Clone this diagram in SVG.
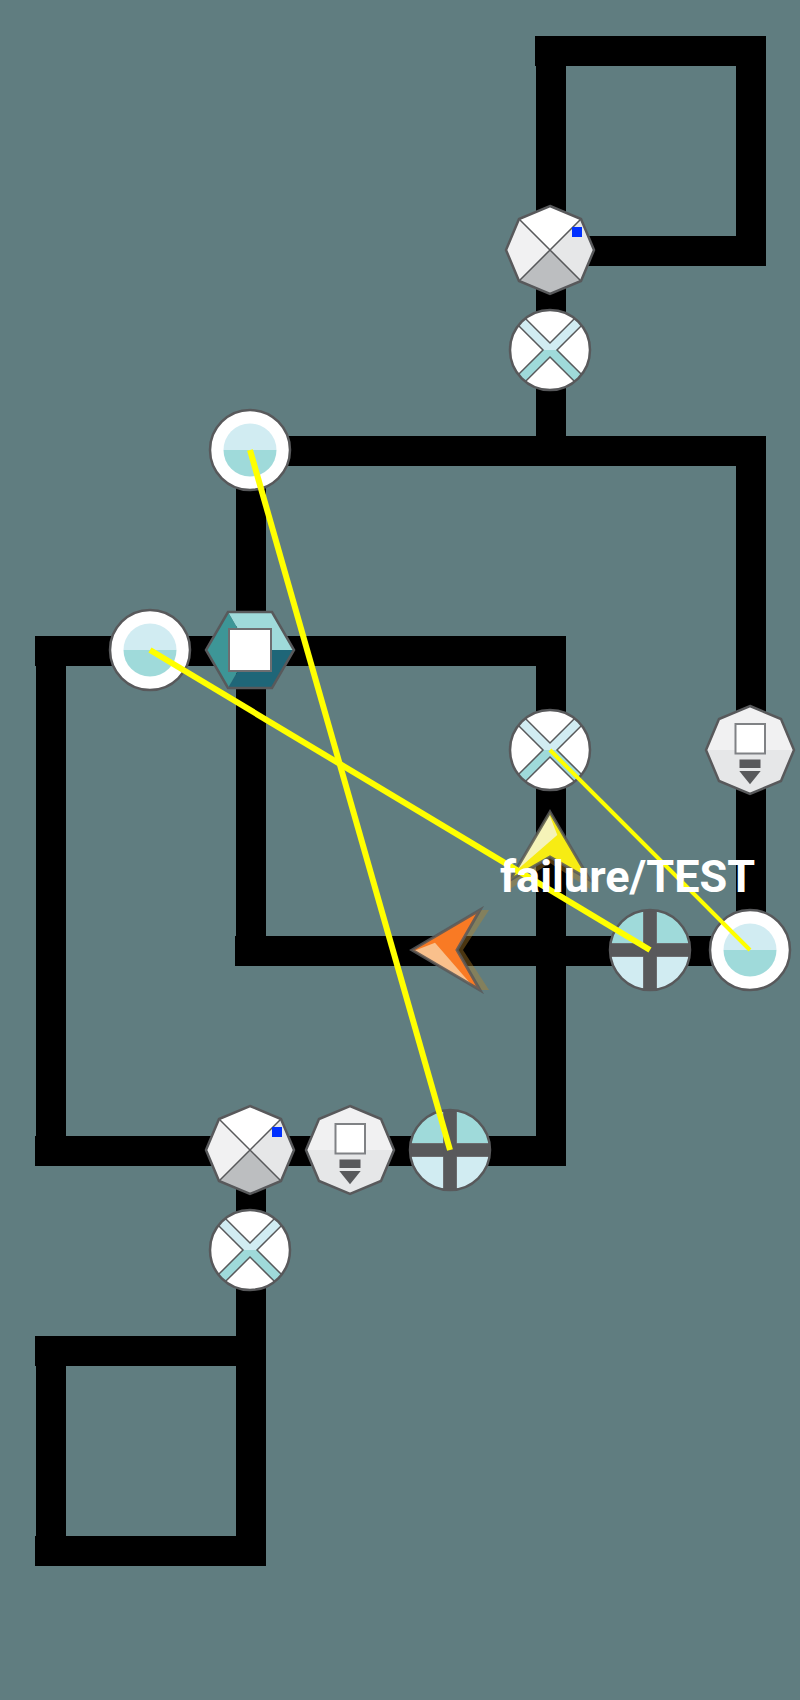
<svg xmlns="http://www.w3.org/2000/svg" width="800" height="1700" viewBox="0 0 800 1700">
<style>
.pipe{stroke:#000;stroke-width:30;fill:none}
.sig{stroke:#ff0;fill:none}
.o{stroke:#58595b;stroke-width:2.5;fill:none}
.e{stroke:#58595b;stroke-width:1.5;fill:none}
.lt{fill:#d1ecf2}
.tl{fill:#9fdada}
.bar{fill:#58595b;stroke:#808285;stroke-width:1}
.barf{fill:#58595b}
.label{font-family:Roboto,"Liberation Sans",sans-serif;font-size:45px;font-weight:700;fill:#fff}
</style>
<defs>
<g id="x-valve"><circle r="40" fill="#fff"/>
<path class="lt" d="M-31.57-24.57A40 40 0 0 1-24.57-31.57L0-7 24.57-31.57A40 40 0 0 1 31.57-24.57L7 0H-7Z"/>
<path class="tl" d="M-31.57 24.57A40 40 0 0 0-24.57 31.57L0 7 24.57 31.57A40 40 0 0 0 31.57 24.57L7 0H-7Z"/>
<path class="e" d="M-31.57-24.57L-7 0-31.57 24.57M-24.57-31.57L0-7 24.57-31.57M31.57-24.57L7 0 31.57 24.57M-24.57 31.57L0 7 24.57 31.57"/>
<circle class="o" r="40"/></g>
<g id="ring"><circle r="40" fill="#fff"/>
<path class="lt" d="M-26.5 0A26.5 26.5 0 0 1 26.5 0Z"/>
<path class="tl" d="M-26.5 0A26.5 26.5 0 0 0 26.5 0Z"/>
<circle class="o" r="40"/></g>
<g id="plus"><path class="tl" d="M-40 0A40 40 0 0 1 40 0Z"/>
<path class="lt" d="M-40 0A40 40 0 0 0 40 0Z"/>
<rect class="bar" x="-39.5" y="-6.5" width="79" height="13"/>
<rect class="bar" x="-6.5" y="-39.5" width="13" height="79"/>
<rect class="barf" x="-39.5" y="-6.5" width="79" height="13"/>
<rect class="barf" x="-6.5" y="-39.5" width="13" height="79"/>
<circle class="o" r="40"/></g>
<g id="octa-cross">
<polygon points="-31,-31 0,-44 31,-31 0,0" fill="#fff"/>
<polygon points="-31,-31 -44,0 -31,31 0,0" fill="#f1f1f2"/>
<polygon points="31,-31 44,0 31,31 0,0" fill="#e6e7e8"/>
<polygon points="-31,31 0,44 31,31 0,0" fill="#bcbec0"/>
<path class="e" d="M-31-31L31 31M31-31L-31 31"/>
<polygon class="o" points="0,-44 31,-31 44,0 31,31 0,44 -31,31 -44,0 -31,-31"/>
<rect x="22" y="-23" width="10" height="10" fill="#0030ff"/></g>
<g id="octa-drop">
<path d="M-44 0L-31-31 0-44 31-31 44 0Z" fill="#f1f1f2"/>
<path d="M-44 0L-31 31 0 44 31 31 44 0Z" fill="#e6e7e8"/>
<polygon class="o" points="0,-44 31,-31 44,0 31,31 0,44 -31,31 -44,0 -31,-31"/>
<rect x="-14.5" y="-26" width="29.5" height="29.5" fill="#fff" stroke="#808285" stroke-width="2"/>
<rect x="-10.5" y="9.5" width="21" height="8.5" fill="#58595b"/>
<polygon points="-10.7,21 10.7,21 0,34.3" fill="#58595b"/></g>
<g id="arrow-o">
<polygon points="30,-40 7,0 30,40 39,40 13,0 39,-40" fill="#b88428" fill-opacity=".4"/>
<polygon points="-38,0 30,-40 7,0 30,40" fill="#f97a24"/>
<polygon points="-35,.5 -15,-7.3 21.7,35" fill="#f9c08c"/>
<polygon points="-38,0 30,-40 7,0 30,40" fill="none" stroke="#58595b" stroke-opacity=".85" stroke-width="3"/></g>
<g id="arrow-y">
<polygon points="30,-40 7,0 30,40 39,40 13,0 39,-40" fill="#b88428" fill-opacity=".4"/>
<polygon points="-38,0 30,-40 7,0 30,40" fill="#f7ec13"/>
<polygon points="-35,.5 -15,-7.3 21.7,35" fill="#f5f3b8"/>
<polygon points="-38,0 30,-40 7,0 30,40" fill="none" stroke="#58595b" stroke-opacity=".85" stroke-width="3"/></g>
</defs>
<rect width="800" height="1700" fill="#607d80"/>
<g id="connectors">
<path class="pipe" d="M535 51H766M751 36V266M550 251H766M551 36V451"/>
<path class="pipe" d="M250 451H766M751 436V951M235 951H751M251 436V966"/>
<path class="pipe" d="M35 651H566M551 636V1166M35 1151H566M51 636V1166"/>
<path class="pipe" d="M251 1151V1566M35 1351H266M51 1336V1566M35 1551H266"/>
</g>
<g id="node-octa-1" transform="translate(550 250)"><use href="#octa-cross"/></g>
<g id="node-x-1" transform="translate(550 350)"><use href="#x-valve"/></g>
<g id="node-ring-1" transform="translate(250 450)"><use href="#ring"/></g>
<g id="node-ring-2" transform="translate(150 650)"><use href="#ring"/></g>
<g id="node-hex" transform="translate(250 650)">
<polygon points="-22,-38 22,-38 44,0 0,0" fill="#9fdada"/>
<polygon points="-22,-38 -44,0 -22,38 0,0" fill="#3d9697"/>
<polygon points="44,0 22,38 -22,38 0,0" fill="#1f6678"/>
<polygon class="o" points="-22,-38 22,-38 44,0 22,38 -22,38 -44,0"/>
<rect x="-21" y="-21" width="42" height="42" fill="#fff" stroke="#6d6e71" stroke-width="2"/>
</g>
<g id="node-x-2" transform="translate(550 750)"><use href="#x-valve"/></g>
<g id="node-drop-1" transform="translate(750 750)"><use href="#octa-drop"/></g>
<g id="node-arrow-y" transform="translate(550 850) rotate(90)"><use href="#arrow-y"/></g>
<g id="node-arrow-o" transform="translate(450 950)"><use href="#arrow-o"/></g>
<g id="node-plus-1" transform="translate(650 950)"><use href="#plus"/></g>
<g id="node-ring-3" transform="translate(750 950)"><use href="#ring"/></g>
<g id="node-octa-2" transform="translate(250 1150)"><use href="#octa-cross"/></g>
<g id="node-drop-2" transform="translate(350 1150)"><use href="#octa-drop"/></g>
<g id="node-plus-2" transform="translate(450 1150)"><use href="#plus"/></g>
<g id="node-x-3" transform="translate(250 1250)"><use href="#x-valve"/></g>
<g id="signals">
<line class="sig" x1="250" y1="450" x2="450" y2="1150" stroke-width="6"/>
<line class="sig" x1="150" y1="650" x2="650" y2="950" stroke-width="6"/>
<line class="sig" x1="550" y1="750" x2="750" y2="950" stroke-width="4"/>
</g>
<text class="label" x="500" y="892">failure/TEST</text>
</svg>
